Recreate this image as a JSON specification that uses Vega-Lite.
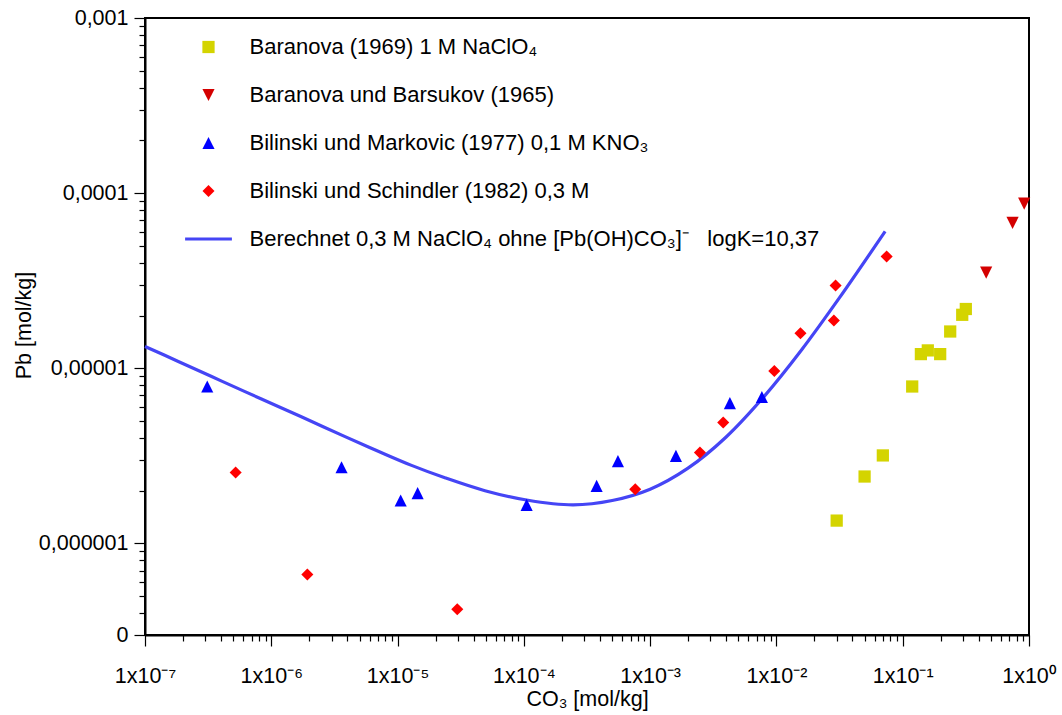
{
  "$schema": "https://vega.github.io/schema/vega-lite/v6.json",
  "width": 884,
  "height": 617,
  "autosize": {"type": "none"},
  "padding": {"left": 145, "top": 18, "right": 33, "bottom": 80},
  "background": "white",
  "config": {
    "view": {"stroke": "black", "strokeWidth": 2},
    "font": "Liberation Sans",
    "axis": {
      "grid": false,
      "labelFont": "Liberation Sans",
      "labelFontSize": 21.5,
      "labelColor": "black",
      "titleFont": "Liberation Sans",
      "titleFontSize": 21.5,
      "titleFontWeight": "normal",
      "titleColor": "black",
      "domainColor": "black",
      "domainWidth": 2,
      "tickColor": "black",
      "tickWidth": 1.2,
      "labelFlush": false,
      "labelOverlap": false
    },
    "legend": {
      "orient": "none",
      "legendX": 52.5,
      "legendY": 18,
      "padding": 0,
      "title": null,
      "labelFont": "Liberation Sans",
      "labelFontSize": 22,
      "labelColor": "black",
      "labelLimit": 1000,
      "labelOffset": 30,
      "rowPadding": 26,
      "symbolStrokeWidth": 0,
      "symbolOpacity": 1
    }
  },
  "datasets": {
    "calc": [
      {"x": 1e-7, "y": 1.333e-5},
      {"x": 1.835e-7, "y": 1.094e-5},
      {"x": 3.37e-7, "y": 8.97e-6},
      {"x": 6.19e-7, "y": 7.36e-6},
      {"x": 1.135e-6, "y": 6.05e-6},
      {"x": 2.09e-6, "y": 4.97e-6},
      {"x": 3.84e-6, "y": 4.07e-6},
      {"x": 7.03e-6, "y": 3.36e-6},
      {"x": 1.29e-5, "y": 2.79e-6},
      {"x": 2.37e-5, "y": 2.37e-6},
      {"x": 4.92e-5, "y": 2.0e-6},
      {"x": 1.05e-4, "y": 1.77e-6},
      {"x": 2.46e-4, "y": 1.66e-6},
      {"x": 5.01e-4, "y": 1.758e-6},
      {"x": 1.0e-3, "y": 2.04e-6},
      {"x": 1.995e-3, "y": 2.69e-6},
      {"x": 3.98e-3, "y": 4.04e-6},
      {"x": 7.94e-3, "y": 6.87e-6},
      {"x": 1.585e-2, "y": 1.276e-5},
      {"x": 3.16e-2, "y": 2.53e-5},
      {"x": 7.26e-2, "y": 6.05e-5}
    ],
    "pts": [
      {"s": "Baranova (1969) 1 M NaClO₄", "x": 0.030, "y": 1.35e-6},
      {"s": "Baranova (1969) 1 M NaClO₄", "x": 0.0499, "y": 2.41e-6},
      {"s": "Baranova (1969) 1 M NaClO₄", "x": 0.0696, "y": 3.18e-6},
      {"s": "Baranova (1969) 1 M NaClO₄", "x": 0.1189, "y": 7.87e-6},
      {"s": "Baranova (1969) 1 M NaClO₄", "x": 0.1393, "y": 1.205e-5},
      {"s": "Baranova (1969) 1 M NaClO₄", "x": 0.158, "y": 1.265e-5},
      {"s": "Baranova (1969) 1 M NaClO₄", "x": 0.198, "y": 1.205e-5},
      {"s": "Baranova (1969) 1 M NaClO₄", "x": 0.2377, "y": 1.622e-5},
      {"s": "Baranova (1969) 1 M NaClO₄", "x": 0.296, "y": 2.02e-5},
      {"s": "Baranova (1969) 1 M NaClO₄", "x": 0.316, "y": 2.18e-5},
      {"s": "Baranova und Barsukov (1965)", "x": 0.458, "y": 3.52e-5},
      {"s": "Baranova und Barsukov (1965)", "x": 0.741, "y": 6.76e-5},
      {"s": "Baranova und Barsukov (1965)", "x": 0.916, "y": 8.71e-5},
      {"s": "Bilinski und Markovic (1977) 0,1 M KNO₃", "x": 3.11e-7, "y": 7.87e-6},
      {"s": "Bilinski und Markovic (1977) 0,1 M KNO₃", "x": 3.6e-6, "y": 2.72e-6},
      {"s": "Bilinski und Markovic (1977) 0,1 M KNO₃", "x": 1.058e-5, "y": 1.757e-6},
      {"s": "Bilinski und Markovic (1977) 0,1 M KNO₃", "x": 1.442e-5, "y": 1.936e-6},
      {"s": "Bilinski und Markovic (1977) 0,1 M KNO₃", "x": 1.052e-4, "y": 1.66e-6},
      {"s": "Bilinski und Markovic (1977) 0,1 M KNO₃", "x": 3.77e-4, "y": 2.13e-6},
      {"s": "Bilinski und Markovic (1977) 0,1 M KNO₃", "x": 5.56e-4, "y": 2.95e-6},
      {"s": "Bilinski und Markovic (1977) 0,1 M KNO₃", "x": 1.6e-3, "y": 3.16e-6},
      {"s": "Bilinski und Markovic (1977) 0,1 M KNO₃", "x": 4.28e-3, "y": 6.33e-6},
      {"s": "Bilinski und Markovic (1977) 0,1 M KNO₃", "x": 7.67e-3, "y": 6.85e-6},
      {"s": "Bilinski und Schindler (1982) 0,3 M", "x": 5.22e-7, "y": 2.54e-6},
      {"s": "Bilinski und Schindler (1982) 0,3 M", "x": 1.93e-6, "y": 6.64e-7},
      {"s": "Bilinski und Schindler (1982) 0,3 M", "x": 2.97e-5, "y": 4.21e-7},
      {"s": "Bilinski und Schindler (1982) 0,3 M", "x": 7.62e-4, "y": 2.04e-6},
      {"s": "Bilinski und Schindler (1982) 0,3 M", "x": 2.48e-3, "y": 3.3e-6},
      {"s": "Bilinski und Schindler (1982) 0,3 M", "x": 3.79e-3, "y": 4.9e-6},
      {"s": "Bilinski und Schindler (1982) 0,3 M", "x": 9.62e-3, "y": 9.64e-6},
      {"s": "Bilinski und Schindler (1982) 0,3 M", "x": 1.55e-2, "y": 1.585e-5},
      {"s": "Bilinski und Schindler (1982) 0,3 M", "x": 2.85e-2, "y": 1.875e-5},
      {"s": "Bilinski und Schindler (1982) 0,3 M", "x": 2.94e-2, "y": 2.97e-5},
      {"s": "Bilinski und Schindler (1982) 0,3 M", "x": 7.46e-2, "y": 4.35e-5}
    ]
  },
  "layer": [
    {
      "data": {"name": "calc"},
      "mark": {"type": "line", "color": "#4545f5", "strokeWidth": 3.2, "interpolate": "catmull-rom"},
      "encoding": {
        "x": {
          "field": "x", "type": "quantitative",
          "scale": {"type": "log", "domain": [1e-7, 1], "nice": false},
          "axis": {
            "title": "CO₃ [mol/kg]",
            "titleX": 442,
            "titleY": 70,
            "titleBaseline": "alphabetic",
            "values": [1e-7,2e-7,3e-7,4e-7,5e-7,6e-7,7e-7,8e-7,9e-7,1e-6,2e-6,3e-6,4e-6,5e-6,6e-6,7e-6,8e-6,9e-6,1e-5,2e-5,3e-5,4e-5,5e-5,6e-5,7e-5,8e-5,9e-5,1e-4,2e-4,3e-4,4e-4,5e-4,6e-4,7e-4,8e-4,9e-4,1e-3,2e-3,3e-3,4e-3,5e-3,6e-3,7e-3,8e-3,9e-3,1e-2,2e-2,3e-2,4e-2,5e-2,6e-2,7e-2,8e-2,9e-2,0.1,0.2,0.3,0.4,0.5,0.6,0.7,0.8,0.9,1],
            "labelExpr": "abs(log(datum.value)/LN10 - round(log(datum.value)/LN10)) < 0.001 ? '1x10' + (datum.value < 0.5 ? '⁻' : '') + ['⁰','¹','²','³','⁴','⁵','⁶','⁷','⁸','⁹'][abs(round(log(datum.value)/LN10))] : ''",
            "labelBaseline": "alphabetic",
            "labelPadding": 36,
            "tickSize": {"condition": {"test": "abs(log(datum.value)/LN10 - round(log(datum.value)/LN10)) < 0.001", "value": 11}, "value": 6}
          }
        },
        "y": {
          "field": "y", "type": "quantitative",
          "scale": {"type": "log", "domain": [3e-7, 1e-3], "nice": false},
          "axis": {
            "title": "Pb [mol/kg]",
            "titleX": -110,
            "titleY": 307,
            "values": [3e-7,4e-7,5e-7,6e-7,7e-7,8e-7,9e-7,1e-6,2e-6,3e-6,4e-6,5e-6,6e-6,7e-6,8e-6,9e-6,1e-5,2e-5,3e-5,4e-5,5e-5,6e-5,7e-5,8e-5,9e-5,1e-4,2e-4,3e-4,4e-4,5e-4,6e-4,7e-4,8e-4,9e-4,1e-3],
            "labelExpr": "datum.value < 3.5e-7 ? '0' : (abs(log(datum.value)/LN10 - round(log(datum.value)/LN10)) < 0.001 ? replace(format(datum.value, '.6~f'), '.', ',') : '')",
            "labelPadding": 6,
            "tickSize": {"condition": {"test": "datum.value < 3.5e-7 || abs(log(datum.value)/LN10 - round(log(datum.value)/LN10)) < 0.001", "value": 11}, "value": 6}
          }
        }
      }
    },
    {
      "data": {"name": "pts"},
      "mark": {"type": "point", "filled": true, "opacity": 1, "strokeWidth": 0},
      "encoding": {
        "x": {"field": "x", "type": "quantitative"},
        "y": {"field": "y", "type": "quantitative"},
        "color": {
          "field": "s", "type": "nominal",
          "scale": {
            "domain": ["Baranova (1969) 1 M NaClO₄", "Baranova und Barsukov (1965)", "Bilinski und Markovic (1977) 0,1 M KNO₃", "Bilinski und Schindler (1982) 0,3 M", "Berechnet 0,3 M NaClO₄ ohne [Pb(OH)CO₃]⁻\u00a0\u00a0\u00a0logK=10,37"],
            "range": ["#d4d400", "#d40000", "#0000ff", "#ff0000", "#4545f5"]
          },
          "legend": {"title": null}
        },
        "shape": {
          "field": "s", "type": "nominal",
          "scale": {
            "domain": ["Baranova (1969) 1 M NaClO₄", "Baranova und Barsukov (1965)", "Bilinski und Markovic (1977) 0,1 M KNO₃", "Bilinski und Schindler (1982) 0,3 M", "Berechnet 0,3 M NaClO₄ ohne [Pb(OH)CO₃]⁻\u00a0\u00a0\u00a0logK=10,37"],
            "range": ["square", "M-1,-1L1,-1L0,1Z", "M0,-1L1,1L-1,1Z", "diamond", "M-3.9,-0.27L3.9,-0.27L3.9,0.27L-3.9,0.27Z"]
          },
          "legend": {"title": null}
        },
        "size": {
          "field": "s", "type": "nominal",
          "scale": {
            "domain": ["Baranova (1969) 1 M NaClO₄", "Baranova und Barsukov (1965)", "Bilinski und Markovic (1977) 0,1 M KNO₃", "Bilinski und Schindler (1982) 0,3 M", "Berechnet 0,3 M NaClO₄ ohne [Pb(OH)CO₃]⁻\u00a0\u00a0\u00a0logK=10,37"],
            "range": [150, 144, 144, 200, 144]
          },
          "legend": {"title": null}
        }
      }
    }
  ]
}
